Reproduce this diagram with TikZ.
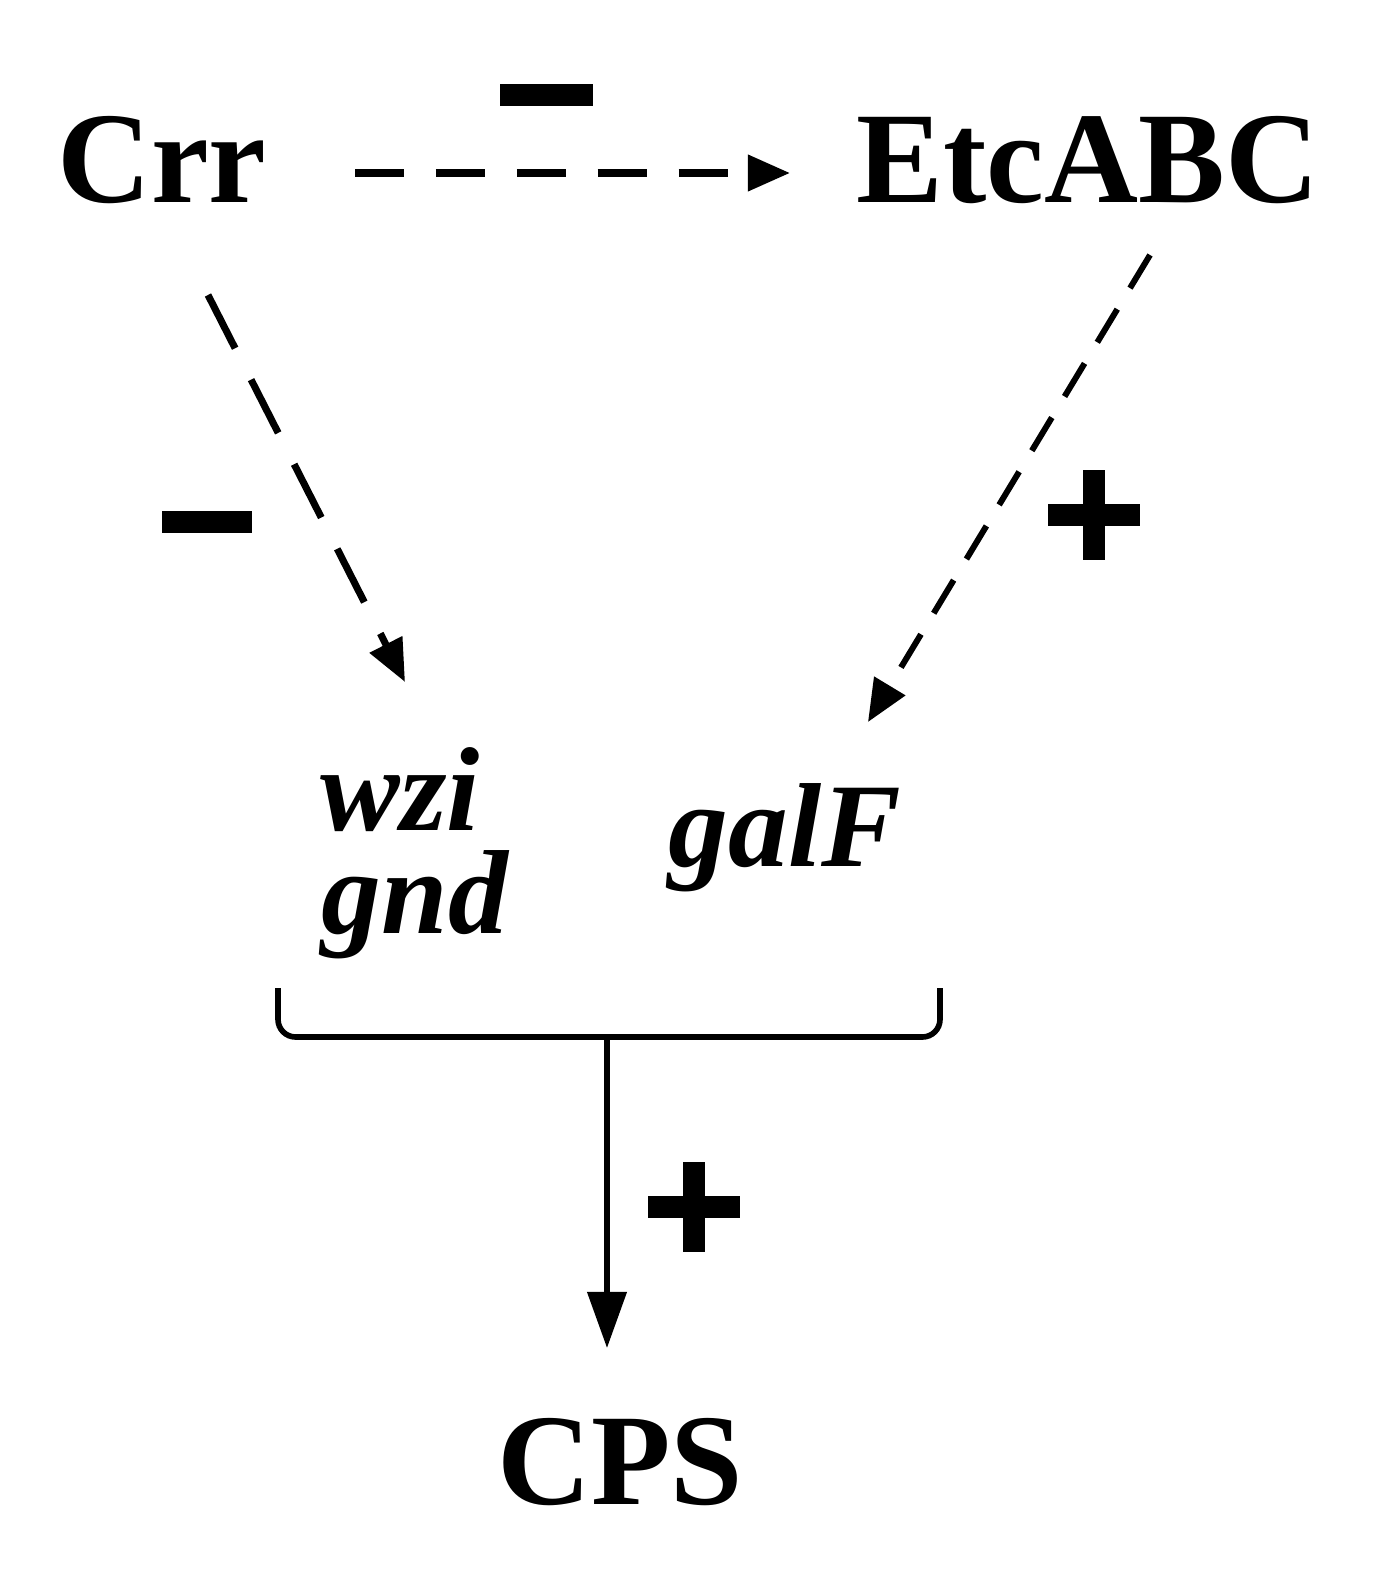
\documentclass[tikz,border=0pt]{standalone}
\usepackage{fontspec}
\setmainfont{Liberation Serif}
\usetikzlibrary{arrows.meta}
\begin{document}
\begin{tikzpicture}[x=0.01cm,y=-0.01cm,
  lbl/.style={font=\fontsize{37}{40}\selectfont\bfseries, inner sep=0},
  gene/.style={font=\fontsize{34}{36}\selectfont\bfseries\itshape, inner sep=0},
  darr/.style={line width=2pt, dash pattern=on 14pt off 9pt, -{Triangle[length=12pt,width=10pt]}},
  sign/.style={line width=6.5pt},
  link/.style={line width=1.6pt}]
\useasboundingbox (0,0) rectangle (1382,1579);
\node[lbl] (crr) at (162,160) {Crr};
\node[lbl] (etc) at (1088,160) {EtcABC};
\node[lbl] (cps) at (620,1462) {CPS};
\node[gene] (wzi) at (400,790) {wzi};
\node[gene] (gnd) at (415,905) {gnd};
\node[gene] (galf) at (785,838) {galF};
\coordinate (a1) at (355,173); \coordinate (a2) at (790,173);
\coordinate (b1) at (208,295); \coordinate (b2) at (405,682);
\coordinate (c1) at (1150,255); \coordinate (c2) at (868,722);
\draw[darr] (a1) -- (a2);
\draw[darr, dash pattern=on 17pt off 10pt] (b1) -- (b2);
\draw[darr, line width=1.7pt, dash pattern=on 11pt off 7pt] (c1) -- (c2);
% signs
\draw[sign] (500,95) -- (593,95);
\draw[sign] (162,522) -- (252,522);
\draw[sign] (1048,515) -- (1140,515);
\draw[sign] (1094,470) -- (1094,560);
\draw[sign] (648,1207) -- (740,1207);
\draw[sign] (694,1162) -- (694,1252);
% bracket
\coordinate (bl) at (278,988); \coordinate (br) at (940,988);
\coordinate (bm) at (607,1037);
\draw[link, rounded corners=5pt] (bl) -- (278,1037) -- (940,1037) -- (br);
\draw[link, -{Triangle[length=16pt,width=11pt]}] (bm) -- (607,1348);
\end{tikzpicture}
\end{document}
